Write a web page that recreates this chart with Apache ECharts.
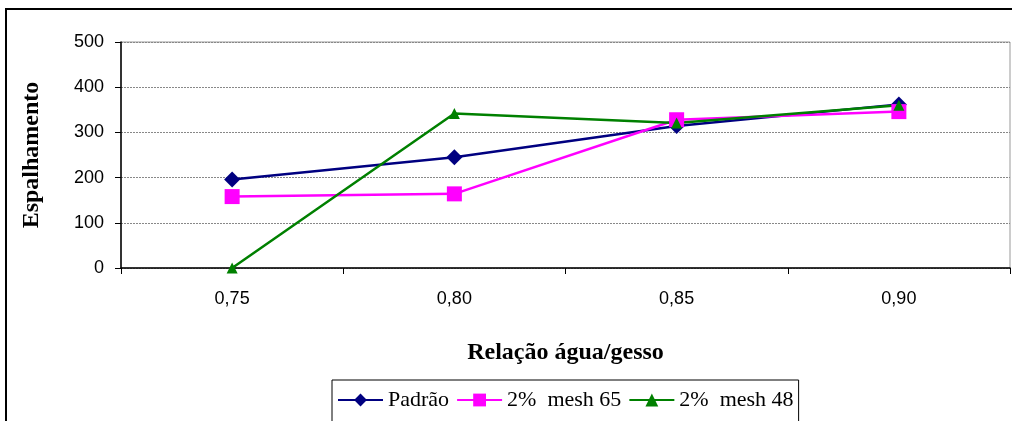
<!DOCTYPE html>
<html>
<head>
<meta charset="utf-8">
<script src="https://cdn.jsdelivr.net/npm/echarts@6/dist/echarts.min.js"></script>
<style>
  html, body { margin: 0; padding: 0; background: #fff; }
  #chart { width: 1012px; height: 421px; }
</style>
</head>
<body>
<div id="chart"></div>
<script>
// dados
var categorias = ['0,75', '0,80', '0,85', '0,90'];
var padrao = [196, 245, 314, 362];
var mesh65 = [158, 164, 328, 346];
var mesh48 = [0, 342, 321, 360];
var nomes = ['Padrão', '2%  mesh 65', '2%  mesh 48'];

var myChart = echarts.init(document.getElementById('chart'));

function serie(nome, dados, cor, simbolo, tam) {
  return {
    name: nome,
    type: 'line',
    data: dados,
    symbol: simbolo,
    symbolSize: tam,
    lineStyle: { color: cor, width: 2.5 },
    itemStyle: { color: cor },
    animation: false
  };
}

var option = {
  backgroundColor: '#fff',
  animation: false,
  graphic: [{
    type: 'rect',
    shape: { x: 6, y: 9, width: 1030, height: 440 },
    style: { fill: 'none', stroke: '#000', lineWidth: 2 },
    z: 100
  }],
  grid: {
    left: 121, top: 42, right: 2, bottom: 153,
    show: true, borderColor: '#999', borderWidth: 1
  },
  legend: {
    left: 332, top: 380,
    data: nomes,
    itemWidth: 45, itemHeight: 16, itemGap: 7,
    padding: [9, 5, 12, 5],
    borderColor: '#000', borderWidth: 1,
    textStyle: { fontFamily: 'Liberation Serif', fontSize: 22, color: '#000' }
  },
  xAxis: {
    type: 'category',
    data: categorias,
    boundaryGap: true,
    name: 'Relação água/gesso',
    nameLocation: 'middle',
    nameGap: 73,
    nameTextStyle: { fontFamily: 'Liberation Serif', fontWeight: 'bold', fontSize: 24, color: '#000' },
    axisLine: { lineStyle: { color: '#000', width: 1.5 } },
    axisTick: { show: true, length: 6, lineStyle: { color: '#000' } },
    axisLabel: { margin: 22, fontFamily: 'Liberation Sans', fontSize: 18, color: '#000' },
    splitLine: { show: false }
  },
  yAxis: {
    type: 'value',
    min: 0, max: 500, interval: 100,
    name: 'Espalhamento',
    nameLocation: 'middle',
    nameGap: 77,
    nameTextStyle: { fontFamily: 'Liberation Serif', fontWeight: 'bold', fontSize: 24, color: '#000' },
    axisLine: { show: true, lineStyle: { color: '#000', width: 1.5 } },
    axisTick: { show: true, length: 6, lineStyle: { color: '#000' } },
    axisLabel: { margin: 17, fontFamily: 'Liberation Sans', fontSize: 18, color: '#000' },
    splitLine: { show: true, lineStyle: { color: '#888', type: [2, 1], width: 1 } }
  },
  series: [
    serie(nomes[0], padrao, '#000080', 'diamond', 16),
    serie(nomes[1], mesh65, '#FF00FF', 'rect', 15),
    serie(nomes[2], mesh48, '#008000', 'triangle', 11)
  ]
};

option && myChart.setOption(option);
</script>
</body>
</html>
